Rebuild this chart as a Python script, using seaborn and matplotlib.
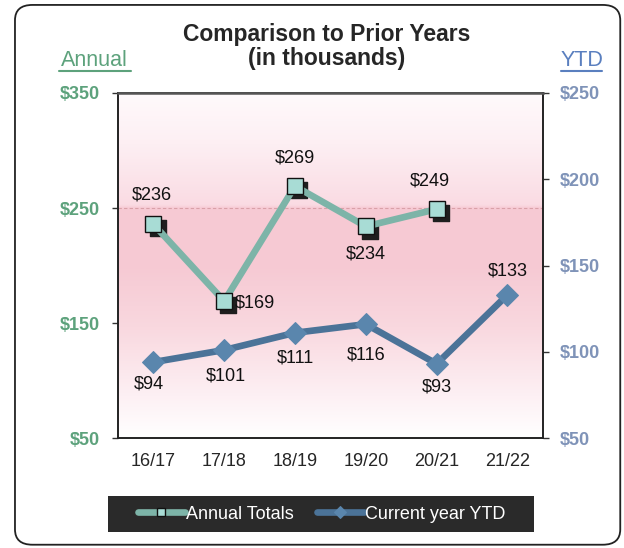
import numpy as np
import pandas as pd
import seaborn as sns
import matplotlib.pyplot as plt
import matplotlib.transforms as mtransforms
from matplotlib.patches import FancyBboxPatch, Rectangle
from matplotlib.colors import LinearSegmentedColormap

# data (thousands of $)
seasons = ["16/17", "17/18", "18/19", "19/20", "20/21", "21/22"]
annual_totals = [236, 169, 269, 234, 249, np.nan]
ytd_values = [94, 101, 111, 116, 93, 133]
annual_ticks = [50, 150, 250, 350]
ytd_ticks = [50, 100, 150, 200, 250]

df = pd.DataFrame({"season": seasons, "Annual Totals": annual_totals,
                   "Current year YTD": ytd_values})
df["x"] = range(len(seasons))

sns.set_theme(style="white")
plt.rcParams["font.family"] = ["Liberation Sans", "DejaVu Sans"]

green = "#5da27c"
blue_txt = "#7f93b8"
annual_line = "#7db4a8"
annual_face = "#a8dcd5"
ytd_line = "#4b7398"
ytd_face = "#5a86ad"

fig = plt.figure(figsize=(6.24, 5.48), dpi=100)
fig.patch.set_facecolor("white")
fig.patches.append(FancyBboxPatch((0.024, 0.006), 0.970, 0.985,
                                  boxstyle="round,pad=0,rounding_size=0.028",
                                  transform=fig.transFigure, facecolor="white",
                                  edgecolor="#222222", linewidth=1.3, zorder=-5))

ax = fig.add_axes([0.189, 0.2007, 0.681, 0.6296])
ax2 = ax.twinx()

# background gradient (white -> pink -> white), step near the $250 line
cmap = LinearSegmentedColormap.from_list("bg", [(0.0, "#ffffff"), (0.12, "#fdf0f4"),
                                                (0.32, "#f9d8df"), (0.5, "#f6c9d3"),
                                                (0.665, "#f7cad4"), (0.675, "#fadbe3"),
                                                (0.85, "#fdeff3"), (1.0, "#fffafc")])
grad = np.linspace(0, 1, 512).reshape(-1, 1)
ax.imshow(grad, aspect="auto", cmap=cmap, extent=[0, 1, 0, 1], origin="lower",
          transform=ax.transAxes, zorder=0)
ax.set_facecolor("white")

ax.axhline(250, color="#d9a0a8", lw=0.8, ls=(0, (3, 2)), zorder=1)

shadow = mtransforms.offset_copy(ax.transData, fig=fig, x=3, y=-3, units="points")
ax.scatter(df["x"], df["Annual Totals"], marker="s", s=125, color="#1e1e1e",
           transform=shadow, zorder=2)
sns.lineplot(data=df, x="x", y="Annual Totals", ax=ax, color=annual_line, lw=4.8,
             marker="s", markersize=11.5, markerfacecolor=annual_face,
             markeredgecolor="#111111", markeredgewidth=1.0, label="Annual Totals",
             legend=False, zorder=3)
sns.lineplot(data=df, x="x", y="Current year YTD", ax=ax2, color=ytd_line, lw=4.8,
             marker="D", markersize=11, markerfacecolor=ytd_face,
             markeredgecolor=ytd_face, label="Current year YTD", legend=False, zorder=3)

# label offsets in points (dx, dy, ha)
annual_offs = [(-1, 21, "center"), (8, -1, "left"), (0, 20, "center"),
               (0, -20, "center"), (-5, 20, "center"), None]
ytd_offs = [(-3, -16, "center"), (1, -19, "center"), (0, -18, "center"),
            (0, -22, "center"), (0, -17, "center"), (0, 17, "center")]
for i, (v, o) in enumerate(zip(annual_totals, annual_offs)):
    if o is None:
        continue
    ax.annotate(f"${int(v)}", (i, v), xytext=(o[0], o[1]), textcoords="offset points",
                ha=o[2], va="center", fontsize=13, color="#111111", zorder=5)
for i, (v, o) in enumerate(zip(ytd_values, ytd_offs)):
    ax2.annotate(f"${v}", (i, v), xytext=(o[0], o[1]), textcoords="offset points",
                 ha=o[2], va="center", fontsize=13, color="#111111", zorder=5)

ax.set_xlim(-0.5, len(seasons) - 0.5)
ax.set_ylim(50, 350)
ax2.set_ylim(50, 250)
ax.set_yticks(annual_ticks)
ax.set_yticklabels([f"${t}" for t in annual_ticks], color=green, fontsize=13, fontweight="bold")
ax2.set_yticks(ytd_ticks)
ax2.set_yticklabels([f"${t}" for t in ytd_ticks], color=blue_txt, fontsize=13, fontweight="bold")
ax.set_xticks(range(len(seasons)))
ax.set_xticklabels(seasons, fontsize=13)
ax.set_xticks(np.arange(-0.5, len(seasons)), minor=True)
ax.tick_params(axis="x", which="major", length=0, pad=11)
ax.tick_params(axis="x", which="minor", length=4, width=1, color="#333333", direction="out")
ax.tick_params(axis="y", length=4, width=1, color="#333333", direction="out", left=True, pad=9)
ax2.tick_params(axis="y", length=4, width=1, color="#333333", direction="out", right=True, pad=8)
ax.set_xlabel("")
ax.set_ylabel("")
ax2.set_ylabel("")
for a in (ax, ax2):
    for s in a.spines.values():
        s.set_color("#222222")
        s.set_linewidth(1.2)
ax2.spines["top"].set_color("#555555")
ax2.spines["top"].set_linewidth(1.8)

fig.text(0.523, 0.915, "Comparison to Prior Years\n(in thousands)", ha="center", va="center",
         fontsize=16.5, fontweight="bold", linespacing=1.1)
fig.text(0.152, 0.890, "Annual", ha="center", va="center", fontsize=15.5, color=green)
fig.text(0.932, 0.890, "YTD", ha="center", va="center", fontsize=15.5, color="#5a7fbf")
fig.lines.append(plt.Line2D([0.094, 0.210], [0.871, 0.871], transform=fig.transFigure,
                            color=green, lw=1.5))
fig.lines.append(plt.Line2D([0.899, 0.965], [0.871, 0.871], transform=fig.transFigure,
                            color="#5a7fbf", lw=1.5))

# dark legend strip
fig.patches.append(Rectangle((0.173, 0.029), 0.683, 0.066, transform=fig.transFigure,
                             facecolor="#2a2a2a", edgecolor="none", zorder=1))
h1, l1 = ax.get_legend_handles_labels()
h2, l2 = ax2.get_legend_handles_labels()
leg = fig.legend(h1 + h2, l1 + l2, loc="center", bbox_to_anchor=(0.515, 0.062), ncol=2,
                 frameon=False, fontsize=13, handlelength=2.6, columnspacing=1.3,
                 handletextpad=0.05, markerscale=0.55)
for txt in leg.get_texts():
    txt.set_color("white")

fig.savefig("out.png", dpi=100)
